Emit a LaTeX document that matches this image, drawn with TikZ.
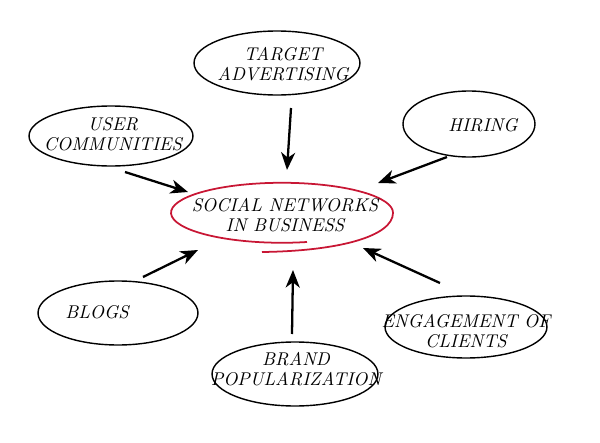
\documentclass[tikz,border=0pt]{standalone}
\usetikzlibrary{shapes.geometric,arrows.meta}
\definecolor{circlered}{RGB}{200,22,52}
\tikzset{
  bubble/.style={draw, ellipse, line width=.8pt, inner sep=0pt},
  caption/.style={align=center, font=\itshape\fontsize{10.5}{11.5}\selectfont},
  push/.style={line width=1.3pt, -{Stealth[length=10pt,width=8pt,inset=3pt]}}
}
\begin{document}
\begin{tikzpicture} [x=0.02cm, y=-0.02cm]
\useasboundingbox (0,0) rectangle (600,443);

% outer bubbles
\node [bubble, minimum width=3.32cm, minimum height=1.28cm] (target) at (277,63) {};
\node [bubble, minimum width=3.28cm, minimum height=1.2cm] (users) at (111,136) {};
\node [bubble, minimum width=2.64cm, minimum height=1.32cm] (hiring) at (469,124) {};
\node [bubble, minimum width=3.2cm, minimum height=1.28cm] (blogs) at (118,313) {};
\node [bubble, minimum width=3.32cm, minimum height=1.28cm] (brand) at (295,374) {};
\node [bubble, minimum width=3.24cm, minimum height=1.24cm] (clients) at (466,327) {};

\node [caption] (target-txt) at (283,64) {TARGET\\ADVERTISING};
\node [caption] (users-txt) at (113,134) {USER\\COMMUNITIES};
\node [caption] (hiring-txt) at (483,125) {HIRING};
\node [caption] (blogs-txt) at (97,312) {BLOGS};
\node [caption] (brand-txt) at (296,369) {BRAND\\POPULARIZATION};
\node [caption] (clients-txt) at (466,331) {ENGAGEMENT OF\\CLIENTS};

% red hub, drawn as one loose loop
\draw [circlered, line width=1pt] (307,242)
  arc [start angle=77, end angle=360, x radius=111, y radius=30]
  .. controls (393,236) and (340,251) .. (262,252);
\node [caption] (hub) at (285,215) {SOCIAL NETWORKS\\IN BUSINESS};

% arrow ends
\coordinate (t1) at (291,108); \coordinate (h1) at (287,170);
\coordinate (t2) at (125,172); \coordinate (h2) at (188,192);
\coordinate (t3) at (447,157); \coordinate (h3) at (378,183);
\coordinate (t4) at (143,277); \coordinate (h4) at (198,250);
\coordinate (t5) at (292,334); \coordinate (h5) at (293,270);
\coordinate (t6) at (440,283); \coordinate (h6) at (363,248);

\foreach \i in {1,...,6}
  \draw [push] (t\i) -- (h\i);
\end{tikzpicture}
\end{document}
